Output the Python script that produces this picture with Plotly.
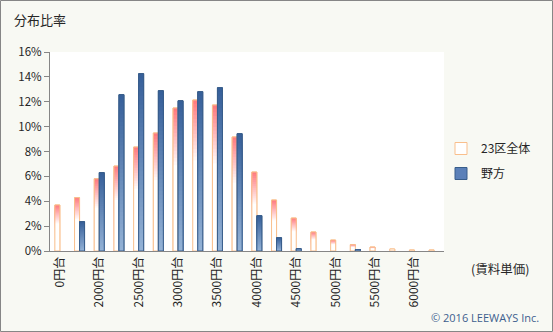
import plotly.graph_objects as go

# 賃料単価の区分(250円刻み)
categories = ["0円台", "1750円台", "2000円台", "2250円台", "2500円台", "2750円台",
              "3000円台", "3250円台", "3500円台", "3750円台", "4000円台", "4250円台",
              "4500円台", "4750円台", "5000円台", "5250円台", "5500円台", "5750円台",
              "6000円台", "6250円台"]

# 分布比率(%)
ward_all = [3.70, 4.29, 5.81, 6.83, 8.36, 9.49, 11.50, 12.14, 11.74, 9.17,
            6.35, 4.10, 2.65, 1.53, 0.88, 0.51, 0.32, 0.16, 0.08, 0.08]
nogata = [0.0, 2.36, 6.30, 12.57, 14.26, 12.89, 12.08, 12.81, 13.13, 9.43,
          2.84, 1.07, 0.18, 0.0, 0.0, 0.10, 0.0, 0.0, 0.0, 0.0]

y_ticks = [0, 2, 4, 6, 8, 10, 12, 14, 16]
label_idx = list(range(0, len(categories), 2))

BG = "#f8f9f3"
AXIS = "#868686"
TEXT = "#262626"
BAR_W = 0.254
N_STEPS = 40

x_idx = list(range(len(categories)))


def lerp(c0, c1, t):
    return "rgb(%d,%d,%d)" % tuple(round(a + (b - a) * t) for a, b in zip(c0, c1))


def orange_at(f):
    # white in the lower part, fading to pink toward the top
    t = max(0.0, (f - 0.6) / 0.4)
    return lerp((255, 255, 255), (255, 124, 128), t)


def blue_at(f):
    return lerp((149, 179, 215), (55, 96, 154), f)


def none_if_zero(vals):
    return [v if v > 0 else None for v in vals]


fig = go.Figure()


def add_series(name, vals, offset, color_fn, base_fill, line_color):
    vals_nz = none_if_zero(vals)
    # base bar (also provides the legend entry)
    fig.add_trace(go.Bar(
        x=x_idx, y=vals_nz, name=name, width=BAR_W, offset=offset,
        marker=dict(color=base_fill, line=dict(color=line_color, width=1)),
        legendgroup=name, hoverinfo="skip"))
    # vertical gradient: nested bars from tallest to shortest
    for k in range(N_STEPS):
        frac = (N_STEPS - k) / N_STEPS
        fig.add_trace(go.Bar(
            x=x_idx, y=[v * frac if v else None for v in vals_nz],
            width=BAR_W, offset=offset, showlegend=False, legendgroup=name,
            marker=dict(color=color_fn(frac), line=dict(width=0)),
            hoverinfo="skip"))
    # outline on top
    fig.add_trace(go.Bar(
        x=x_idx, y=vals_nz, width=BAR_W, offset=offset, showlegend=False,
        legendgroup=name,
        marker=dict(color="rgba(0,0,0,0)", line=dict(color=line_color, width=1)),
        hoverinfo="skip"))


add_series("23区全体", ward_all, -BAR_W, orange_at, "#ffffff", "#f9bf8c")
add_series("野方", nogata, 0.0, blue_at, "#5b80b8", "#385d8a")

L, R, T, B = 50, 109, 52, 81
W, H = 553, 332
pw, ph = W - L - R, H - T - B


def px(x):
    return (x - L) / pw


def py(y):
    return (H - B - y) / ph


fig.update_layout(
    width=W, height=H,
    margin=dict(l=L, r=R, t=T, b=B, pad=0, autoexpand=False),
    paper_bgcolor=BG, plot_bgcolor="#ffffff",
    barmode="overlay",
    font=dict(family="Noto Sans CJK JP, sans-serif", size=11, color=TEXT),
    xaxis=dict(
        range=[-0.5, len(categories) - 0.5], tickmode="array",
        tickvals=label_idx, ticktext=[categories[i] for i in label_idx],
        tickangle=-90, ticks="", showline=True, linecolor=AXIS, linewidth=1,
        showgrid=False, zeroline=False, fixedrange=True,
        tickfont=dict(size=12, color=TEXT)),
    xaxis2=dict(
        overlaying="x", anchor="y", side="bottom",
        range=[-0.5, len(categories) - 0.5], tickmode="array",
        tickvals=[i - 0.5 for i in range(0, len(categories) + 1, 2)],
        ticks="outside", ticklen=5, tickcolor=AXIS, tickwidth=1,
        showticklabels=False, showline=False, showgrid=False, zeroline=False),
    yaxis=dict(
        range=[0, 16], tickmode="array", tickvals=y_ticks,
        ticktext=[f"{v}%" for v in y_ticks], ticks="outside", ticklen=5,
        tickcolor=AXIS, showline=True, linecolor=AXIS, linewidth=1,
        showgrid=False, zeroline=False, tickfont=dict(size=11.5, color=TEXT)),
    legend=dict(
        x=px(441), y=py(134), xanchor="left", yanchor="top",
        bgcolor="rgba(0,0,0,0)", font=dict(size=12, color=TEXT),
        traceorder="grouped", tracegroupgap=6, itemwidth=30),
    showlegend=True,
    annotations=[
        dict(text="分布比率", x=px(12), y=py(20), xref="paper", yref="paper",
             xanchor="left", yanchor="middle", showarrow=False,
             font=dict(size=13, color=TEXT)),
        dict(text="(賃料単価)", x=px(469), y=py(268), xref="paper", yref="paper",
             xanchor="left", yanchor="middle", showarrow=False,
             font=dict(size=12.5, color=TEXT)),
        dict(text="© 2016 LEEWAYS Inc.", x=px(541), y=py(317), xref="paper",
             yref="paper", xanchor="right", yanchor="middle", showarrow=False,
             font=dict(family="Open Sans, sans-serif", size=11, color="#3e5f8e")),
    ],
    shapes=[
        dict(type="rect", xref="paper", yref="paper",
             x0=px(0.5), x1=px(W - 0.5), y0=py(H - 0.5), y1=py(0.5),
             line=dict(color=AXIS, width=1), fillcolor="rgba(0,0,0,0)",
             layer="above"),
    ],
)

fig.write_html("out.html")
